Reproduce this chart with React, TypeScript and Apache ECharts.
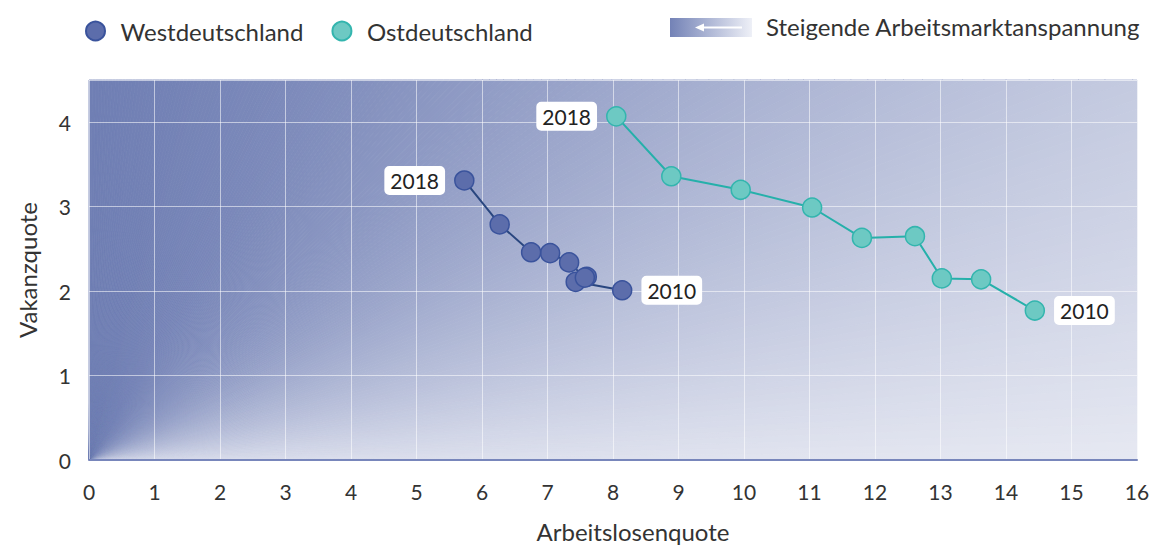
import React, { useEffect, useRef } from "react";
import * as echarts from "echarts";

const years = ["2010", "2011", "2012", "2013", "2014", "2015", "2016", "2017", "2018"];
const westX = [8.14, 7.43, 7.6, 7.57, 7.33, 7.04, 6.75, 6.27, 5.73];
const westY = [2.01, 2.11, 2.17, 2.16, 2.34, 2.45, 2.46, 2.79, 3.31];
const eastX = [14.44, 13.62, 13.02, 12.61, 11.8, 11.04, 9.95, 8.89, 8.05];
const eastY = [1.77, 2.14, 2.15, 2.65, 2.63, 2.99, 3.2, 3.36, 4.07];
const xTicks = [0, 16];
const yTicks = [0, 4.5];

const FONT = "Lato";
const DARK = [112, 127, 180];
const LIGHT = [232, 234, 243];

function mix(t: number) {
  const c = DARK.map((d, i) => Math.round(d + (LIGHT[i] - d) * t));
  return `rgb(${c[0]},${c[1]},${c[2]})`;
}

function buildData(xs: number[], ys: number[]) {
  const last = xs.length - 1;
  return xs.map((x, i) => {
    const item: any = { value: [x, ys[i]], year: years[i] };
    if (i === 0 || i === last) {
      item.label = {
        show: true,
        position: i === 0 ? "right" : "left",
        distance: 9,
        formatter: years[i],
        backgroundColor: "#ffffff",
        borderRadius: 5,
        padding: [5, 6, 3, 6],
        color: "#222",
        fontSize: 21,
        fontFamily: FONT,
      };
    }
    return item;
  });
}

export default function App() {
  const ref = useRef<HTMLDivElement>(null);
  useEffect(() => {
    if (!ref.current) return;
    const chart = echarts.init(ref.current, undefined, { renderer: "svg" });
    const N = 180;
    const bgRender = (params: any, api: any) => {
      const o = api.coord([xTicks[0], yTicks[0]]);
      const c = api.coord([xTicks[1], yTicks[1]]);
      const W = c[0] - o[0];
      const H = o[1] - c[1];
      const tc = Math.atan2(H, W);
      const hit = (t: number) => {
        const dx = Math.cos(t);
        const dy = Math.sin(t);
        const sx = dx > 1e-9 ? W / dx : Infinity;
        const sy = dy > 1e-9 ? H / dy : Infinity;
        const s = Math.min(sx, sy);
        return [o[0] + dx * s, o[1] - dy * s];
      };
      const children: any[] = [];
      for (let i = 0; i < N; i++) {
        const t0 = (i / N) * (Math.PI / 2);
        const t1 = ((i + 1) / N) * (Math.PI / 2);
        const pts: number[][] = [[o[0], o[1]], hit(t0)];
        if (t0 < tc && t1 > tc) pts.push([c[0], c[1]]);
        pts.push(hit(t1));
        const deg = ((t0 + t1) / 2) * (180 / Math.PI);
        const L = 0.86 * Math.pow(1 - deg / 90, 3);
        const col = mix(L);
        children.push({
          type: "polygon",
          shape: { points: pts },
          style: { fill: col, stroke: col, lineWidth: 0.8 },
          silent: true,
        });
      }
      children.push({
        type: "rect",
        shape: { x: o[0], y: c[1], width: W, height: H },
        style: {
          fill: new echarts.graphic.LinearGradient(0, 0, 1, 0, [
            { offset: 0, color: "rgba(255,255,255,0)" },
            { offset: 1, color: "rgba(255,255,255,0.38)" },
          ]),
        },
        silent: true,
      });
      return { type: "group", children };
    };

    const option: any = {
      animation: false,
      textStyle: { fontFamily: FONT },
      grid: { left: 89, right: 21, top: 80, bottom: 86, containLabel: false },
      legend: {
        data: ["Westdeutschland", "Ostdeutschland"],
        left: 80,
        top: 14,
        icon: "circle",
        itemWidth: 32,
        itemHeight: 19,
        itemGap: 28,
        textStyle: { fontSize: 24, color: "#333", fontFamily: FONT, padding: [0, 0, 0, 4] },
      },
      xAxis: {
        type: "value",
        min: 0,
        max: 16,
        interval: 1,
        z: 1,
        name: "Arbeitslosenquote",
        nameLocation: "middle",
        nameGap: 59,
        nameTextStyle: { fontSize: 24, color: "#333", fontFamily: FONT, padding: [0, 0, 0, 40] },
        axisLine: { show: true, lineStyle: { color: "#7886bb", width: 2 } },
        axisTick: { show: false },
        axisLabel: { fontSize: 21, color: "#333", margin: 21, fontFamily: FONT },
        splitLine: { show: true, lineStyle: { color: "rgba(255,255,255,0.55)", width: 1 } },
      },
      yAxis: {
        type: "value",
        min: 0,
        max: 4.5,
        interval: 1,
        z: 1,
        name: "Vakanzquote",
        nameLocation: "middle",
        nameGap: 50,
        nameTextStyle: { fontSize: 24, color: "#333", fontFamily: FONT },
        axisLine: { show: false },
        axisTick: { show: false },
        axisLabel: {
          fontSize: 21,
          color: "#333",
          margin: 18,
          fontFamily: FONT,
          formatter: (v: number) => (Number.isInteger(v) ? String(v) : ""),
        },
        splitLine: { show: true, lineStyle: { color: "rgba(255,255,255,0.55)", width: 1 } },
      },
      series: [
        {
          type: "custom",
          name: "bg",
          z: 0,
          silent: true,
          renderItem: bgRender,
          data: [[xTicks[0], yTicks[0]]],
          tooltip: { show: false },
        },
        {
          type: "line",
          name: "Westdeutschland",
          z: 3,
          data: buildData(westX, westY),
          symbol: "circle",
          symbolSize: 19,
          showSymbol: true,
          lineStyle: { color: "#29467f", width: 2 },
          itemStyle: { color: "#5c6dab", borderColor: "#3a539c", borderWidth: 1.5 },
        },
        {
          type: "line",
          name: "Ostdeutschland",
          z: 3,
          data: buildData(eastX, eastY),
          symbol: "circle",
          symbolSize: 19,
          showSymbol: true,
          lineStyle: { color: "#25b0aa", width: 2 },
          itemStyle: { color: "#6dc9c3", borderColor: "#33b5ae", borderWidth: 1.5 },
        },
      ],
      graphic: [
        {
          type: "rect",
          left: 670,
          top: 18,
          shape: { width: 82, height: 19 },
          style: {
            fill: new echarts.graphic.LinearGradient(0, 0, 1, 0, [
              { offset: 0, color: "#7382b6" },
              { offset: 1, color: "#eef0f7" },
            ]),
          },
        },
        {
          type: "line",
          shape: { x1: 700, y1: 27.5, x2: 742, y2: 27.5 },
          style: { stroke: "#ffffff", lineWidth: 2 },
        },
        {
          type: "polygon",
          shape: { points: [[695, 27.5], [704, 23.5], [704, 31.5]] },
          style: { fill: "#ffffff" },
        },
        {
          type: "text",
          left: 766,
          top: 14,
          style: { text: "Steigende Arbeitsmarktanspannung", fontSize: 24, fill: "#333", fontFamily: FONT },
        },
      ],
    };
    chart.setOption(option);
    return () => chart.dispose();
  }, []);
  return <div ref={ref} style={{ width: 1158, height: 548, position: "absolute", left: 0, top: 0 }} />;
}
